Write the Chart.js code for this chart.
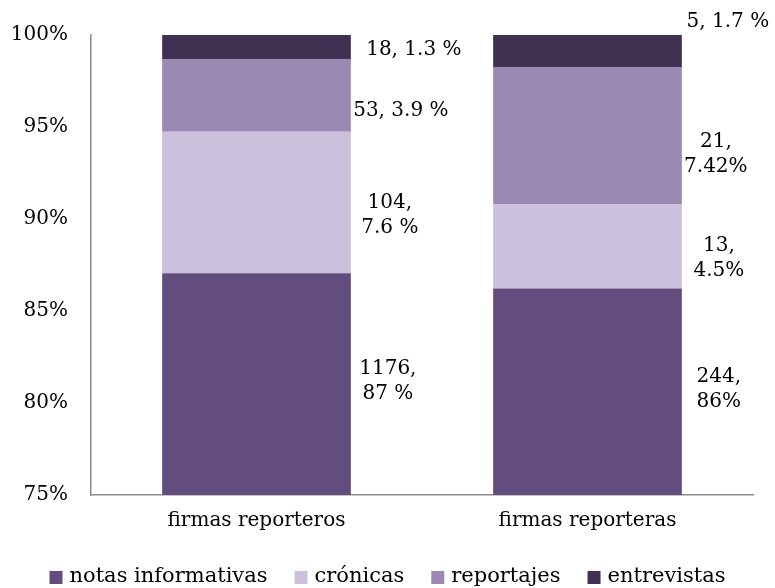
<!DOCTYPE html>
<html>
<head>
<meta charset="utf-8">
<script src="https://cdn.jsdelivr.net/npm/chart.js@4"></script>
<style>
  html, body { margin: 0; padding: 0; background: #ffffff; }
  #wrap { width: 775px; height: 588px; }
</style>
</head>
<body>
<div id="wrap"><canvas id="firmasChart" width="775" height="588"></canvas></div>
<script>
// Piezas por tipo de género, según firma
const categories = ['firmas reporteros', 'firmas reporteras'];
const notas = [1176, 244];
const cronicas = [104, 13];
const reportajes = [53, 21];
const entrevistas = [18, 5];

// Etiquetas tal como se publican (número, porcentaje)
const notasLabels = [['1176,', '87 %'], ['244,', '86%']];
const cronicasLabels = [['104,', '7.6 %'], ['13,', '4.5%']];
const reportajesLabels = [['53, 3.9 %'], ['21,', '7.42%']];
const entrevistasLabels = [['18, 1.3 %'], ['5, 1.7 %']];

const yMin = 0.75;
const yMax = 1;
const yStep = 0.05;

const colores = {
    notas: '#634c7e',
    cronicas: '#ccc1dc',
    reportajes: '#9b88b3',
    entrevistas: '#403152',
    eje: '#8c8c8c',
    texto: '#000000'
};

const fuente = "'DejaVu Serif', serif";
Chart.defaults.font.family = fuente;
Chart.defaults.color = colores.texto;

// Totales por categoría para pasar a proporción
const totales = categories.map((c, i) => notas[i] + cronicas[i] + reportajes[i] + entrevistas[i]);
const share = arr => arr.map((v, i) => v / totales[i]);

// Desplazamiento de cada etiqueta respecto al borde derecho de la barra
const labelOffsets = [
    [[37, -3], [37, -2]],
    [[39, 13], [37, 12]],
    [[50, 15], [34, 19]],
    [[63, 3], [46, -29]]
];

const segmentLabels = {
    id: 'segmentLabels',
    afterDatasetsDraw(chart) {
        const { ctx, chartArea } = chart;
        ctx.save();
        ctx.font = '20px ' + fuente;
        ctx.fillStyle = colores.texto;
        ctx.textAlign = 'center';
        ctx.textBaseline = 'middle';
        chart.data.datasets.forEach((ds, di) => {
            const meta = chart.getDatasetMeta(di);
            meta.data.forEach((bar, i) => {
                const top = Math.max(bar.y, chartArea.top);
                const bottom = Math.min(bar.base, chartArea.bottom);
                const lines = ds.segmentText[i];
                const off = labelOffsets[di][i];
                const cx = bar.x + bar.width / 2 + off[0];
                const cy = (top + bottom) / 2 + off[1];
                const lh = 25;
                lines.forEach((t, k) => {
                    ctx.fillText(t, cx, cy + (k - (lines.length - 1) / 2) * lh);
                });
            });
        });
        ctx.restore();
    }
};

// Leyenda inferior: cuadro pequeño pegado al texto
const bottomLegend = {
    id: 'bottomLegend',
    afterDraw(chart) {
        const { ctx } = chart;
        const box = 13, gapText = 7, gapItem = 27, yMid = 577;
        ctx.save();
        ctx.font = '21px ' + fuente;
        ctx.textBaseline = 'middle';
        ctx.textAlign = 'left';
        const items = chart.data.datasets.map(ds => ({
            text: ds.label,
            color: ds.backgroundColor,
            w: ctx.measureText(ds.label).width
        }));
        const total = items.reduce((s, it) => s + box + gapText + it.w, 0) + gapItem * (items.length - 1);
        let x = chart.width / 2 - total / 2;
        items.forEach(it => {
            ctx.fillStyle = it.color;
            ctx.fillRect(x, yMid - 6, box, box);
            ctx.fillStyle = colores.texto;
            ctx.fillText(it.text, x + box + gapText, yMid);
            x += box + gapText + it.w + gapItem;
        });
        ctx.restore();
    }
};

const ctx = document.getElementById('firmasChart').getContext('2d');
const firmasChart = new Chart(ctx, {
    type: 'bar',
    data: {
        labels: categories,
        datasets: [{
            label: 'notas informativas',
            data: share(notas),
            segmentText: notasLabels,
            backgroundColor: colores.notas
        }, {
            label: 'crónicas',
            data: share(cronicas),
            segmentText: cronicasLabels,
            backgroundColor: colores.cronicas
        }, {
            label: 'reportajes',
            data: share(reportajes),
            segmentText: reportajesLabels,
            backgroundColor: colores.reportajes
        }, {
            label: 'entrevistas',
            data: share(entrevistas),
            segmentText: entrevistasLabels,
            backgroundColor: colores.entrevistas
        }]
    },
    options: {
        responsive: false,
        animation: false,
        layout: {
            padding: { top: 35, right: 22, left: 0, bottom: 41 }
        },
        datasets: {
            bar: {
                barPercentage: 0.57,
                categoryPercentage: 1,
                borderWidth: 0
            }
        },
        plugins: {
            legend: { display: false },
            tooltip: { enabled: false }
        },
        scales: {
            x: {
                stacked: true,
                grid: { display: false, drawTicks: false },
                border: { color: colores.eje, width: 1.5 },
                ticks: {
                    padding: 14,
                    color: colores.texto,
                    font: { family: fuente, size: 20 }
                }
            },
            y: {
                stacked: true,
                min: yMin,
                max: yMax,
                afterFit(scale) { scale.width = 91; },
                grid: { display: false, drawTicks: false },
                border: { color: colores.eje, width: 1.5 },
                ticks: {
                    stepSize: yStep,
                    padding: 23,
                    color: colores.texto,
                    font: { family: fuente, size: 20 },
                    callback: value => Math.round(value * 100) + '%'
                }
            }
        }
    },
    plugins: [segmentLabels, bottomLegend]
});
</script>
</body>
</html>
